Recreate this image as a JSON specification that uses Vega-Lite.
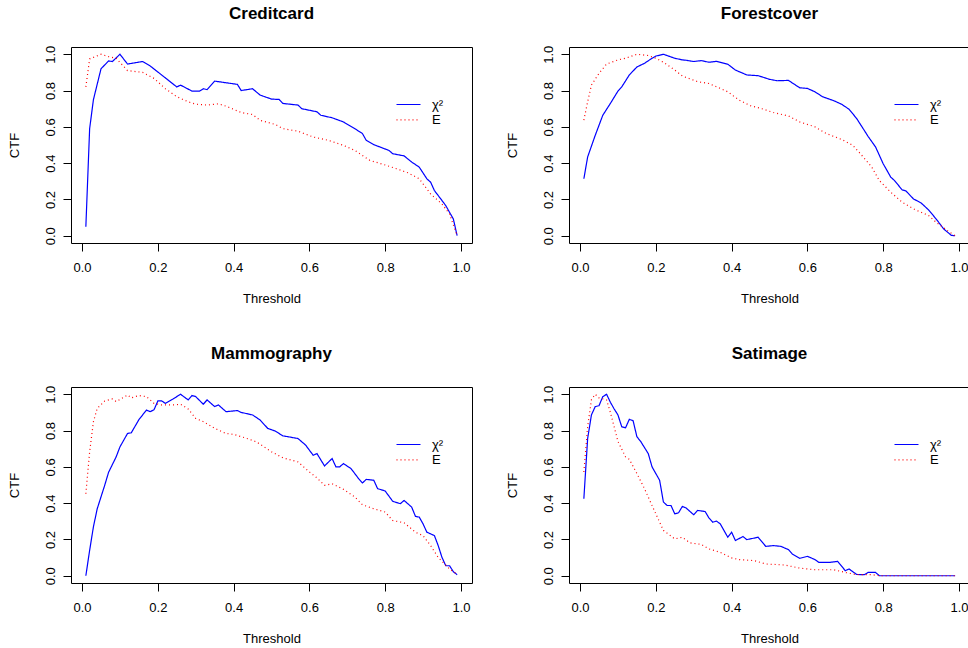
{
"$schema": "https://vega.github.io/schema/vega-lite/v6.json",
"background": "white",
"padding": {"left": 7, "top": 4, "right": 0, "bottom": 0},
"bounds": "flush",
"columns": 2,
"spacing": {"row": 144, "column": 97},
"data": {"values": [
{"d":"Creditcard","m":"χ²","t":0.01,"v":0.05},{"d":"Creditcard","m":"χ²","t":0.02,"v":0.59},{"d":"Creditcard","m":"χ²","t":0.03,"v":0.75},{"d":"Creditcard","m":"χ²","t":0.05,"v":0.92},{"d":"Creditcard","m":"χ²","t":0.07,"v":0.963},{"d":"Creditcard","m":"χ²","t":0.08,"v":0.96},{"d":"Creditcard","m":"χ²","t":0.10,"v":1.0},{"d":"Creditcard","m":"χ²","t":0.12,"v":0.946},{"d":"Creditcard","m":"χ²","t":0.16,"v":0.96},{"d":"Creditcard","m":"χ²","t":0.18,"v":0.935},{"d":"Creditcard","m":"χ²","t":0.21,"v":0.886},{"d":"Creditcard","m":"χ²","t":0.25,"v":0.82},{"d":"Creditcard","m":"χ²","t":0.26,"v":0.83},{"d":"Creditcard","m":"χ²","t":0.29,"v":0.797},{"d":"Creditcard","m":"χ²","t":0.31,"v":0.797},{"d":"Creditcard","m":"χ²","t":0.32,"v":0.81},{"d":"Creditcard","m":"χ²","t":0.33,"v":0.805},{"d":"Creditcard","m":"χ²","t":0.35,"v":0.852},{"d":"Creditcard","m":"χ²","t":0.38,"v":0.843},{"d":"Creditcard","m":"χ²","t":0.41,"v":0.834},{"d":"Creditcard","m":"χ²","t":0.42,"v":0.80},{"d":"Creditcard","m":"χ²","t":0.45,"v":0.81},{"d":"Creditcard","m":"χ²","t":0.47,"v":0.775},{"d":"Creditcard","m":"χ²","t":0.50,"v":0.753},{"d":"Creditcard","m":"χ²","t":0.52,"v":0.751},{"d":"Creditcard","m":"χ²","t":0.53,"v":0.729},{"d":"Creditcard","m":"χ²","t":0.57,"v":0.72},{"d":"Creditcard","m":"χ²","t":0.58,"v":0.70},{"d":"Creditcard","m":"χ²","t":0.62,"v":0.683},{"d":"Creditcard","m":"χ²","t":0.63,"v":0.664},{"d":"Creditcard","m":"χ²","t":0.66,"v":0.65},{"d":"Creditcard","m":"χ²","t":0.69,"v":0.627},{"d":"Creditcard","m":"χ²","t":0.72,"v":0.59},{"d":"Creditcard","m":"χ²","t":0.74,"v":0.563},{"d":"Creditcard","m":"χ²","t":0.75,"v":0.526},{"d":"Creditcard","m":"χ²","t":0.77,"v":0.502},{"d":"Creditcard","m":"χ²","t":0.81,"v":0.47},{"d":"Creditcard","m":"χ²","t":0.82,"v":0.452},{"d":"Creditcard","m":"χ²","t":0.85,"v":0.44},{"d":"Creditcard","m":"χ²","t":0.87,"v":0.406},{"d":"Creditcard","m":"χ²","t":0.89,"v":0.378},{"d":"Creditcard","m":"χ²","t":0.91,"v":0.314},{"d":"Creditcard","m":"χ²","t":0.92,"v":0.295},{"d":"Creditcard","m":"χ²","t":0.93,"v":0.249},{"d":"Creditcard","m":"χ²","t":0.95,"v":0.194},{"d":"Creditcard","m":"χ²","t":0.96,"v":0.166},{"d":"Creditcard","m":"χ²","t":0.98,"v":0.092},{"d":"Creditcard","m":"χ²","t":0.99,"v":0.0},
{"d":"Creditcard","m":"E","t":0.01,"v":0.82},{"d":"Creditcard","m":"E","t":0.02,"v":0.974},{"d":"Creditcard","m":"E","t":0.05,"v":1.0},{"d":"Creditcard","m":"E","t":0.07,"v":0.987},{"d":"Creditcard","m":"E","t":0.09,"v":0.978},{"d":"Creditcard","m":"E","t":0.12,"v":0.91},{"d":"Creditcard","m":"E","t":0.16,"v":0.90},{"d":"Creditcard","m":"E","t":0.19,"v":0.867},{"d":"Creditcard","m":"E","t":0.22,"v":0.81},{"d":"Creditcard","m":"E","t":0.25,"v":0.766},{"d":"Creditcard","m":"E","t":0.28,"v":0.738},{"d":"Creditcard","m":"E","t":0.30,"v":0.725},{"d":"Creditcard","m":"E","t":0.33,"v":0.72},{"d":"Creditcard","m":"E","t":0.36,"v":0.727},{"d":"Creditcard","m":"E","t":0.38,"v":0.714},{"d":"Creditcard","m":"E","t":0.42,"v":0.679},{"d":"Creditcard","m":"E","t":0.45,"v":0.668},{"d":"Creditcard","m":"E","t":0.47,"v":0.636},{"d":"Creditcard","m":"E","t":0.51,"v":0.613},{"d":"Creditcard","m":"E","t":0.53,"v":0.59},{"d":"Creditcard","m":"E","t":0.57,"v":0.576},{"d":"Creditcard","m":"E","t":0.61,"v":0.544},{"d":"Creditcard","m":"E","t":0.65,"v":0.526},{"d":"Creditcard","m":"E","t":0.69,"v":0.498},{"d":"Creditcard","m":"E","t":0.72,"v":0.47},{"d":"Creditcard","m":"E","t":0.76,"v":0.415},{"d":"Creditcard","m":"E","t":0.80,"v":0.39},{"d":"Creditcard","m":"E","t":0.83,"v":0.369},{"d":"Creditcard","m":"E","t":0.86,"v":0.347},{"d":"Creditcard","m":"E","t":0.89,"v":0.314},{"d":"Creditcard","m":"E","t":0.92,"v":0.23},{"d":"Creditcard","m":"E","t":0.95,"v":0.175},{"d":"Creditcard","m":"E","t":0.97,"v":0.12},{"d":"Creditcard","m":"E","t":0.99,"v":0.0},
{"d":"Forestcover","m":"χ²","t":0.01,"v":0.314},{"d":"Forestcover","m":"χ²","t":0.02,"v":0.434},{"d":"Forestcover","m":"χ²","t":0.04,"v":0.553},{"d":"Forestcover","m":"χ²","t":0.06,"v":0.664},{"d":"Forestcover","m":"χ²","t":0.08,"v":0.729},{"d":"Forestcover","m":"χ²","t":0.10,"v":0.797},{"d":"Forestcover","m":"χ²","t":0.11,"v":0.82},{"d":"Forestcover","m":"χ²","t":0.13,"v":0.886},{"d":"Forestcover","m":"χ²","t":0.15,"v":0.93},{"d":"Forestcover","m":"χ²","t":0.17,"v":0.95},{"d":"Forestcover","m":"χ²","t":0.19,"v":0.978},{"d":"Forestcover","m":"χ²","t":0.20,"v":0.99},{"d":"Forestcover","m":"χ²","t":0.22,"v":1.0},{"d":"Forestcover","m":"χ²","t":0.25,"v":0.978},{"d":"Forestcover","m":"χ²","t":0.27,"v":0.969},{"d":"Forestcover","m":"χ²","t":0.28,"v":0.967},{"d":"Forestcover","m":"χ²","t":0.30,"v":0.96},{"d":"Forestcover","m":"χ²","t":0.32,"v":0.965},{"d":"Forestcover","m":"χ²","t":0.34,"v":0.956},{"d":"Forestcover","m":"χ²","t":0.36,"v":0.961},{"d":"Forestcover","m":"χ²","t":0.39,"v":0.945},{"d":"Forestcover","m":"χ²","t":0.41,"v":0.913},{"d":"Forestcover","m":"χ²","t":0.44,"v":0.886},{"d":"Forestcover","m":"χ²","t":0.47,"v":0.882},{"d":"Forestcover","m":"χ²","t":0.50,"v":0.862},{"d":"Forestcover","m":"χ²","t":0.52,"v":0.854},{"d":"Forestcover","m":"χ²","t":0.55,"v":0.856},{"d":"Forestcover","m":"χ²","t":0.58,"v":0.815},{"d":"Forestcover","m":"χ²","t":0.60,"v":0.812},{"d":"Forestcover","m":"χ²","t":0.62,"v":0.793},{"d":"Forestcover","m":"χ²","t":0.64,"v":0.766},{"d":"Forestcover","m":"χ²","t":0.67,"v":0.744},{"d":"Forestcover","m":"χ²","t":0.69,"v":0.725},{"d":"Forestcover","m":"χ²","t":0.71,"v":0.697},{"d":"Forestcover","m":"χ²","t":0.73,"v":0.646},{"d":"Forestcover","m":"χ²","t":0.75,"v":0.581},{"d":"Forestcover","m":"χ²","t":0.76,"v":0.548},{"d":"Forestcover","m":"χ²","t":0.78,"v":0.489},{"d":"Forestcover","m":"χ²","t":0.80,"v":0.397},{"d":"Forestcover","m":"χ²","t":0.81,"v":0.36},{"d":"Forestcover","m":"χ²","t":0.82,"v":0.323},{"d":"Forestcover","m":"χ²","t":0.83,"v":0.304},{"d":"Forestcover","m":"χ²","t":0.85,"v":0.253},{"d":"Forestcover","m":"χ²","t":0.86,"v":0.247},{"d":"Forestcover","m":"χ²","t":0.88,"v":0.203},{"d":"Forestcover","m":"χ²","t":0.90,"v":0.181},{"d":"Forestcover","m":"χ²","t":0.92,"v":0.142},{"d":"Forestcover","m":"χ²","t":0.94,"v":0.092},{"d":"Forestcover","m":"χ²","t":0.96,"v":0.037},{"d":"Forestcover","m":"χ²","t":0.98,"v":0.002},{"d":"Forestcover","m":"χ²","t":0.99,"v":0.0},
{"d":"Forestcover","m":"E","t":0.01,"v":0.637},{"d":"Forestcover","m":"E","t":0.02,"v":0.738},{"d":"Forestcover","m":"E","t":0.03,"v":0.83},{"d":"Forestcover","m":"E","t":0.05,"v":0.895},{"d":"Forestcover","m":"E","t":0.07,"v":0.946},{"d":"Forestcover","m":"E","t":0.10,"v":0.969},{"d":"Forestcover","m":"E","t":0.12,"v":0.978},{"d":"Forestcover","m":"E","t":0.15,"v":1.0},{"d":"Forestcover","m":"E","t":0.18,"v":0.993},{"d":"Forestcover","m":"E","t":0.20,"v":0.978},{"d":"Forestcover","m":"E","t":0.22,"v":0.956},{"d":"Forestcover","m":"E","t":0.25,"v":0.913},{"d":"Forestcover","m":"E","t":0.27,"v":0.88},{"d":"Forestcover","m":"E","t":0.31,"v":0.849},{"d":"Forestcover","m":"E","t":0.34,"v":0.839},{"d":"Forestcover","m":"E","t":0.36,"v":0.821},{"d":"Forestcover","m":"E","t":0.39,"v":0.793},{"d":"Forestcover","m":"E","t":0.42,"v":0.747},{"d":"Forestcover","m":"E","t":0.45,"v":0.716},{"d":"Forestcover","m":"E","t":0.48,"v":0.70},{"d":"Forestcover","m":"E","t":0.51,"v":0.679},{"d":"Forestcover","m":"E","t":0.55,"v":0.66},{"d":"Forestcover","m":"E","t":0.58,"v":0.627},{"d":"Forestcover","m":"E","t":0.62,"v":0.60},{"d":"Forestcover","m":"E","t":0.65,"v":0.563},{"d":"Forestcover","m":"E","t":0.69,"v":0.531},{"d":"Forestcover","m":"E","t":0.72,"v":0.498},{"d":"Forestcover","m":"E","t":0.74,"v":0.452},{"d":"Forestcover","m":"E","t":0.77,"v":0.378},{"d":"Forestcover","m":"E","t":0.79,"v":0.304},{"d":"Forestcover","m":"E","t":0.82,"v":0.24},{"d":"Forestcover","m":"E","t":0.85,"v":0.185},{"d":"Forestcover","m":"E","t":0.88,"v":0.148},{"d":"Forestcover","m":"E","t":0.92,"v":0.111},{"d":"Forestcover","m":"E","t":0.94,"v":0.074},{"d":"Forestcover","m":"E","t":0.97,"v":0.028},{"d":"Forestcover","m":"E","t":0.99,"v":0.0},
{"d":"Mammography","m":"χ²","t":0.01,"v":0.0},{"d":"Mammography","m":"χ²","t":0.02,"v":0.14},{"d":"Mammography","m":"χ²","t":0.03,"v":0.27},{"d":"Mammography","m":"χ²","t":0.04,"v":0.369},{"d":"Mammography","m":"χ²","t":0.06,"v":0.50},{"d":"Mammography","m":"χ²","t":0.07,"v":0.57},{"d":"Mammography","m":"χ²","t":0.09,"v":0.655},{"d":"Mammography","m":"χ²","t":0.10,"v":0.71},{"d":"Mammography","m":"χ²","t":0.12,"v":0.784},{"d":"Mammography","m":"χ²","t":0.13,"v":0.788},{"d":"Mammography","m":"χ²","t":0.15,"v":0.86},{"d":"Mammography","m":"χ²","t":0.17,"v":0.913},{"d":"Mammography","m":"χ²","t":0.18,"v":0.904},{"d":"Mammography","m":"χ²","t":0.19,"v":0.915},{"d":"Mammography","m":"χ²","t":0.20,"v":0.963},{"d":"Mammography","m":"χ²","t":0.21,"v":0.963},{"d":"Mammography","m":"χ²","t":0.22,"v":0.95},{"d":"Mammography","m":"χ²","t":0.24,"v":0.974},{"d":"Mammography","m":"χ²","t":0.26,"v":1.0},{"d":"Mammography","m":"χ²","t":0.28,"v":0.969},{"d":"Mammography","m":"χ²","t":0.29,"v":0.993},{"d":"Mammography","m":"χ²","t":0.30,"v":0.987},{"d":"Mammography","m":"χ²","t":0.32,"v":0.945},{"d":"Mammography","m":"χ²","t":0.33,"v":0.969},{"d":"Mammography","m":"χ²","t":0.35,"v":0.932},{"d":"Mammography","m":"χ²","t":0.36,"v":0.941},{"d":"Mammography","m":"χ²","t":0.38,"v":0.904},{"d":"Mammography","m":"χ²","t":0.41,"v":0.91},{"d":"Mammography","m":"χ²","t":0.42,"v":0.90},{"d":"Mammography","m":"χ²","t":0.45,"v":0.886},{"d":"Mammography","m":"χ²","t":0.47,"v":0.858},{"d":"Mammography","m":"χ²","t":0.49,"v":0.812},{"d":"Mammography","m":"χ²","t":0.51,"v":0.797},{"d":"Mammography","m":"χ²","t":0.53,"v":0.771},{"d":"Mammography","m":"χ²","t":0.57,"v":0.756},{"d":"Mammography","m":"χ²","t":0.59,"v":0.72},{"d":"Mammography","m":"χ²","t":0.61,"v":0.664},{"d":"Mammography","m":"χ²","t":0.62,"v":0.673},{"d":"Mammography","m":"χ²","t":0.64,"v":0.605},{"d":"Mammography","m":"χ²","t":0.66,"v":0.646},{"d":"Mammography","m":"χ²","t":0.67,"v":0.60},{"d":"Mammography","m":"χ²","t":0.68,"v":0.60},{"d":"Mammography","m":"χ²","t":0.69,"v":0.618},{"d":"Mammography","m":"χ²","t":0.71,"v":0.59},{"d":"Mammography","m":"χ²","t":0.73,"v":0.535},{"d":"Mammography","m":"χ²","t":0.74,"v":0.511},{"d":"Mammography","m":"χ²","t":0.75,"v":0.531},{"d":"Mammography","m":"χ²","t":0.77,"v":0.526},{"d":"Mammography","m":"χ²","t":0.78,"v":0.48},{"d":"Mammography","m":"χ²","t":0.80,"v":0.467},{"d":"Mammography","m":"χ²","t":0.82,"v":0.41},{"d":"Mammography","m":"χ²","t":0.84,"v":0.397},{"d":"Mammography","m":"χ²","t":0.85,"v":0.415},{"d":"Mammography","m":"χ²","t":0.87,"v":0.378},{"d":"Mammography","m":"χ²","t":0.88,"v":0.327},{"d":"Mammography","m":"χ²","t":0.89,"v":0.323},{"d":"Mammography","m":"χ²","t":0.90,"v":0.286},{"d":"Mammography","m":"χ²","t":0.91,"v":0.24},{"d":"Mammography","m":"χ²","t":0.93,"v":0.221},{"d":"Mammography","m":"χ²","t":0.94,"v":0.166},{"d":"Mammography","m":"χ²","t":0.95,"v":0.101},{"d":"Mammography","m":"χ²","t":0.96,"v":0.055},{"d":"Mammography","m":"χ²","t":0.97,"v":0.055},{"d":"Mammography","m":"χ²","t":0.98,"v":0.022},{"d":"Mammography","m":"χ²","t":0.99,"v":0.006},
{"d":"Mammography","m":"E","t":0.01,"v":0.452},{"d":"Mammography","m":"E","t":0.02,"v":0.683},{"d":"Mammography","m":"E","t":0.03,"v":0.849},{"d":"Mammography","m":"E","t":0.04,"v":0.922},{"d":"Mammography","m":"E","t":0.06,"v":0.963},{"d":"Mammography","m":"E","t":0.08,"v":0.974},{"d":"Mammography","m":"E","t":0.09,"v":0.96},{"d":"Mammography","m":"E","t":0.12,"v":0.996},{"d":"Mammography","m":"E","t":0.13,"v":0.98},{"d":"Mammography","m":"E","t":0.15,"v":0.993},{"d":"Mammography","m":"E","t":0.17,"v":0.987},{"d":"Mammography","m":"E","t":0.19,"v":0.95},{"d":"Mammography","m":"E","t":0.21,"v":0.941},{"d":"Mammography","m":"E","t":0.24,"v":0.941},{"d":"Mammography","m":"E","t":0.26,"v":0.945},{"d":"Mammography","m":"E","t":0.28,"v":0.919},{"d":"Mammography","m":"E","t":0.30,"v":0.867},{"d":"Mammography","m":"E","t":0.32,"v":0.849},{"d":"Mammography","m":"E","t":0.35,"v":0.812},{"d":"Mammography","m":"E","t":0.38,"v":0.784},{"d":"Mammography","m":"E","t":0.40,"v":0.779},{"d":"Mammography","m":"E","t":0.43,"v":0.76},{"d":"Mammography","m":"E","t":0.46,"v":0.738},{"d":"Mammography","m":"E","t":0.50,"v":0.683},{"d":"Mammography","m":"E","t":0.53,"v":0.65},{"d":"Mammography","m":"E","t":0.57,"v":0.627},{"d":"Mammography","m":"E","t":0.60,"v":0.572},{"d":"Mammography","m":"E","t":0.62,"v":0.539},{"d":"Mammography","m":"E","t":0.64,"v":0.498},{"d":"Mammography","m":"E","t":0.66,"v":0.507},{"d":"Mammography","m":"E","t":0.69,"v":0.476},{"d":"Mammography","m":"E","t":0.72,"v":0.434},{"d":"Mammography","m":"E","t":0.74,"v":0.391},{"d":"Mammography","m":"E","t":0.77,"v":0.369},{"d":"Mammography","m":"E","t":0.80,"v":0.351},{"d":"Mammography","m":"E","t":0.82,"v":0.304},{"d":"Mammography","m":"E","t":0.85,"v":0.292},{"d":"Mammography","m":"E","t":0.88,"v":0.24},{"d":"Mammography","m":"E","t":0.90,"v":0.221},{"d":"Mammography","m":"E","t":0.92,"v":0.166},{"d":"Mammography","m":"E","t":0.94,"v":0.101},{"d":"Mammography","m":"E","t":0.97,"v":0.037},{"d":"Mammography","m":"E","t":0.99,"v":0.009},
{"d":"Satimage","m":"χ²","t":0.01,"v":0.424},{"d":"Satimage","m":"χ²","t":0.02,"v":0.756},{"d":"Satimage","m":"χ²","t":0.03,"v":0.886},{"d":"Satimage","m":"χ²","t":0.04,"v":0.932},{"d":"Satimage","m":"χ²","t":0.05,"v":0.937},{"d":"Satimage","m":"χ²","t":0.06,"v":0.987},{"d":"Satimage","m":"χ²","t":0.07,"v":1.0},{"d":"Satimage","m":"χ²","t":0.08,"v":0.956},{"d":"Satimage","m":"χ²","t":0.09,"v":0.919},{"d":"Satimage","m":"χ²","t":0.10,"v":0.886},{"d":"Satimage","m":"χ²","t":0.11,"v":0.821},{"d":"Satimage","m":"χ²","t":0.12,"v":0.815},{"d":"Satimage","m":"χ²","t":0.13,"v":0.862},{"d":"Satimage","m":"χ²","t":0.14,"v":0.854},{"d":"Satimage","m":"χ²","t":0.15,"v":0.766},{"d":"Satimage","m":"χ²","t":0.16,"v":0.74},{"d":"Satimage","m":"χ²","t":0.18,"v":0.673},{"d":"Satimage","m":"χ²","t":0.19,"v":0.60},{"d":"Satimage","m":"χ²","t":0.21,"v":0.526},{"d":"Satimage","m":"χ²","t":0.22,"v":0.406},{"d":"Satimage","m":"χ²","t":0.23,"v":0.387},{"d":"Satimage","m":"χ²","t":0.24,"v":0.387},{"d":"Satimage","m":"χ²","t":0.25,"v":0.341},{"d":"Satimage","m":"χ²","t":0.26,"v":0.347},{"d":"Satimage","m":"χ²","t":0.27,"v":0.382},{"d":"Satimage","m":"χ²","t":0.28,"v":0.373},{"d":"Satimage","m":"χ²","t":0.30,"v":0.336},{"d":"Satimage","m":"χ²","t":0.31,"v":0.36},{"d":"Satimage","m":"χ²","t":0.33,"v":0.354},{"d":"Satimage","m":"χ²","t":0.34,"v":0.319},{"d":"Satimage","m":"χ²","t":0.35,"v":0.295},{"d":"Satimage","m":"χ²","t":0.36,"v":0.301},{"d":"Satimage","m":"χ²","t":0.37,"v":0.286},{"d":"Satimage","m":"χ²","t":0.39,"v":0.212},{"d":"Satimage","m":"χ²","t":0.40,"v":0.24},{"d":"Satimage","m":"χ²","t":0.41,"v":0.194},{"d":"Satimage","m":"χ²","t":0.43,"v":0.216},{"d":"Satimage","m":"χ²","t":0.44,"v":0.199},{"d":"Satimage","m":"χ²","t":0.47,"v":0.212},{"d":"Satimage","m":"χ²","t":0.49,"v":0.162},{"d":"Satimage","m":"χ²","t":0.51,"v":0.166},{"d":"Satimage","m":"χ²","t":0.53,"v":0.162},{"d":"Satimage","m":"χ²","t":0.55,"v":0.144},{"d":"Satimage","m":"χ²","t":0.56,"v":0.12},{"d":"Satimage","m":"χ²","t":0.58,"v":0.096},{"d":"Satimage","m":"χ²","t":0.60,"v":0.107},{"d":"Satimage","m":"χ²","t":0.62,"v":0.089},{"d":"Satimage","m":"χ²","t":0.63,"v":0.074},{"d":"Satimage","m":"χ²","t":0.66,"v":0.074},{"d":"Satimage","m":"χ²","t":0.68,"v":0.079},{"d":"Satimage","m":"χ²","t":0.70,"v":0.028},{"d":"Satimage","m":"χ²","t":0.71,"v":0.037},{"d":"Satimage","m":"χ²","t":0.73,"v":0.007},{"d":"Satimage","m":"χ²","t":0.75,"v":0.006},{"d":"Satimage","m":"χ²","t":0.76,"v":0.018},{"d":"Satimage","m":"χ²","t":0.78,"v":0.018},{"d":"Satimage","m":"χ²","t":0.79,"v":0.0},{"d":"Satimage","m":"χ²","t":0.85,"v":0.0},{"d":"Satimage","m":"χ²","t":0.90,"v":0.0},{"d":"Satimage","m":"χ²","t":0.95,"v":0.0},{"d":"Satimage","m":"χ²","t":0.99,"v":0.0},
{"d":"Satimage","m":"E","t":0.01,"v":0.572},{"d":"Satimage","m":"E","t":0.02,"v":0.82},{"d":"Satimage","m":"E","t":0.03,"v":0.97},{"d":"Satimage","m":"E","t":0.04,"v":1.0},{"d":"Satimage","m":"E","t":0.05,"v":0.98},{"d":"Satimage","m":"E","t":0.07,"v":0.969},{"d":"Satimage","m":"E","t":0.08,"v":0.90},{"d":"Satimage","m":"E","t":0.10,"v":0.74},{"d":"Satimage","m":"E","t":0.12,"v":0.655},{"d":"Satimage","m":"E","t":0.13,"v":0.642},{"d":"Satimage","m":"E","t":0.15,"v":0.563},{"d":"Satimage","m":"E","t":0.17,"v":0.48},{"d":"Satimage","m":"E","t":0.19,"v":0.387},{"d":"Satimage","m":"E","t":0.21,"v":0.295},{"d":"Satimage","m":"E","t":0.22,"v":0.25},{"d":"Satimage","m":"E","t":0.25,"v":0.203},{"d":"Satimage","m":"E","t":0.27,"v":0.212},{"d":"Satimage","m":"E","t":0.29,"v":0.181},{"d":"Satimage","m":"E","t":0.32,"v":0.173},{"d":"Satimage","m":"E","t":0.34,"v":0.148},{"d":"Satimage","m":"E","t":0.37,"v":0.129},{"d":"Satimage","m":"E","t":0.40,"v":0.098},{"d":"Satimage","m":"E","t":0.42,"v":0.089},{"d":"Satimage","m":"E","t":0.46,"v":0.083},{"d":"Satimage","m":"E","t":0.49,"v":0.065},{"d":"Satimage","m":"E","t":0.54,"v":0.059},{"d":"Satimage","m":"E","t":0.58,"v":0.042},{"d":"Satimage","m":"E","t":0.62,"v":0.033},{"d":"Satimage","m":"E","t":0.67,"v":0.033},{"d":"Satimage","m":"E","t":0.70,"v":0.018},{"d":"Satimage","m":"E","t":0.73,"v":0.006},{"d":"Satimage","m":"E","t":0.77,"v":0.006},{"d":"Satimage","m":"E","t":0.79,"v":0.0},{"d":"Satimage","m":"E","t":0.99,"v":0.0}
]},
"concat": [
{"title": "Creditcard", "width": 401, "height": 196,
 "transform": [{"filter": "datum.d == 'Creditcard'"}],
 "mark": {"type": "line", "strokeWidth": 1.2},
 "encoding": {
  "x": {"field": "t", "type": "quantitative", "scale": {"domain": [-0.0292, 1.0292], "nice": false, "zero": false}, "axis": {"title": "Threshold", "values": [0, 0.2, 0.4, 0.6, 0.8, 1], "format": ".1f"}},
  "y": {"field": "v", "type": "quantitative", "scale": {"domain": [-0.04, 1.04], "nice": false, "zero": false}, "axis": {"title": "CTF", "values": [0, 0.2, 0.4, 0.6, 0.8, 1], "format": ".1f"}},
  "color": {"field": "m", "type": "nominal", "scale": {"domain": ["χ²", "E"], "range": ["#0000ff", "#ff0000"]}, "legend": {"title": null, "encode": {"symbols": {"update": {"strokeDash": {"signal": "datum.label === 'E' ? [1, 3] : [1, 0]"}}}}}},
  "strokeDash": {"field": "m", "type": "nominal", "scale": {"domain": ["χ²", "E"], "range": [[1, 0], [1, 3]]}, "legend": null}
 }},
{"title": "Forestcover", "width": 401, "height": 196,
 "transform": [{"filter": "datum.d == 'Forestcover'"}],
 "mark": {"type": "line", "strokeWidth": 1.2},
 "encoding": {
  "x": {"field": "t", "type": "quantitative", "scale": {"domain": [-0.0292, 1.0292], "nice": false, "zero": false}, "axis": {"title": "Threshold", "values": [0, 0.2, 0.4, 0.6, 0.8, 1], "format": ".1f"}},
  "y": {"field": "v", "type": "quantitative", "scale": {"domain": [-0.04, 1.04], "nice": false, "zero": false}, "axis": {"title": "CTF", "values": [0, 0.2, 0.4, 0.6, 0.8, 1], "format": ".1f"}},
  "color": {"field": "m", "type": "nominal", "scale": {"domain": ["χ²", "E"], "range": ["#0000ff", "#ff0000"]}, "legend": {"title": null, "encode": {"symbols": {"update": {"strokeDash": {"signal": "datum.label === 'E' ? [1, 3] : [1, 0]"}}}}}},
  "strokeDash": {"field": "m", "type": "nominal", "scale": {"domain": ["χ²", "E"], "range": [[1, 0], [1, 3]]}, "legend": null}
 }},
{"title": "Mammography", "width": 401, "height": 196,
 "transform": [{"filter": "datum.d == 'Mammography'"}],
 "mark": {"type": "line", "strokeWidth": 1.2},
 "encoding": {
  "x": {"field": "t", "type": "quantitative", "scale": {"domain": [-0.0292, 1.0292], "nice": false, "zero": false}, "axis": {"title": "Threshold", "values": [0, 0.2, 0.4, 0.6, 0.8, 1], "format": ".1f"}},
  "y": {"field": "v", "type": "quantitative", "scale": {"domain": [-0.04, 1.04], "nice": false, "zero": false}, "axis": {"title": "CTF", "values": [0, 0.2, 0.4, 0.6, 0.8, 1], "format": ".1f"}},
  "color": {"field": "m", "type": "nominal", "scale": {"domain": ["χ²", "E"], "range": ["#0000ff", "#ff0000"]}, "legend": {"title": null, "encode": {"symbols": {"update": {"strokeDash": {"signal": "datum.label === 'E' ? [1, 3] : [1, 0]"}}}}}},
  "strokeDash": {"field": "m", "type": "nominal", "scale": {"domain": ["χ²", "E"], "range": [[1, 0], [1, 3]]}, "legend": null}
 }},
{"title": "Satimage", "width": 401, "height": 196,
 "transform": [{"filter": "datum.d == 'Satimage'"}],
 "mark": {"type": "line", "strokeWidth": 1.2},
 "encoding": {
  "x": {"field": "t", "type": "quantitative", "scale": {"domain": [-0.0292, 1.0292], "nice": false, "zero": false}, "axis": {"title": "Threshold", "values": [0, 0.2, 0.4, 0.6, 0.8, 1], "format": ".1f"}},
  "y": {"field": "v", "type": "quantitative", "scale": {"domain": [-0.04, 1.04], "nice": false, "zero": false}, "axis": {"title": "CTF", "values": [0, 0.2, 0.4, 0.6, 0.8, 1], "format": ".1f"}},
  "color": {"field": "m", "type": "nominal", "scale": {"domain": ["χ²", "E"], "range": ["#0000ff", "#ff0000"]}, "legend": {"title": null, "encode": {"symbols": {"update": {"strokeDash": {"signal": "datum.label === 'E' ? [1, 3] : [1, 0]"}}}}}},
  "strokeDash": {"field": "m", "type": "nominal", "scale": {"domain": ["χ²", "E"], "range": [[1, 0], [1, 3]]}, "legend": null}
 }}
],
"resolve": {
 "scale": {"x": "independent", "y": "independent", "color": "independent", "strokeDash": "independent"},
 "legend": {"color": "independent"}
},
"config": {
 "font": "Liberation Sans",
 "view": {"stroke": "black", "strokeWidth": 1, "fill": null},
 "axis": {"domain": false, "grid": false, "ticks": true, "tickColor": "black", "tickWidth": 1, "tickSize": 8,
  "labelFont": "Liberation Sans", "labelFontSize": 13, "labelColor": "black", "labelFlush": false, "labelOverlap": false,
  "titleFont": "Liberation Sans", "titleFontSize": 13, "titleFontWeight": "normal", "titleColor": "black"},
 "axisX": {"labelPadding": 10, "labelAlign": "center", "labelBaseline": "top", "titleY": 49, "titleBaseline": "top"},
 "axisY": {"labelAngle": 270, "labelAlign": "center", "labelBaseline": "alphabetic", "labelPadding": 9, "titleAngle": 270, "titleX": -53, "titleAlign": "center", "titleBaseline": "alphabetic"},
 "title": {"font": "Liberation Sans", "fontSize": 17, "fontWeight": "bold", "color": "black", "anchor": "middle", "baseline": "alphabetic", "offset": 22},
 "legend": {"orient": "none", "legendX": 331, "legendY": 51, "padding": 0, "symbolType": "M-2.4,0L2.4,0", "symbolSize": 100, "symbolStrokeWidth": 1.2,
  "labelFont": "Liberation Sans", "labelFontSize": 13, "labelColor": "black", "labelOffset": 17, "rowPadding": 1.4}
}
}
